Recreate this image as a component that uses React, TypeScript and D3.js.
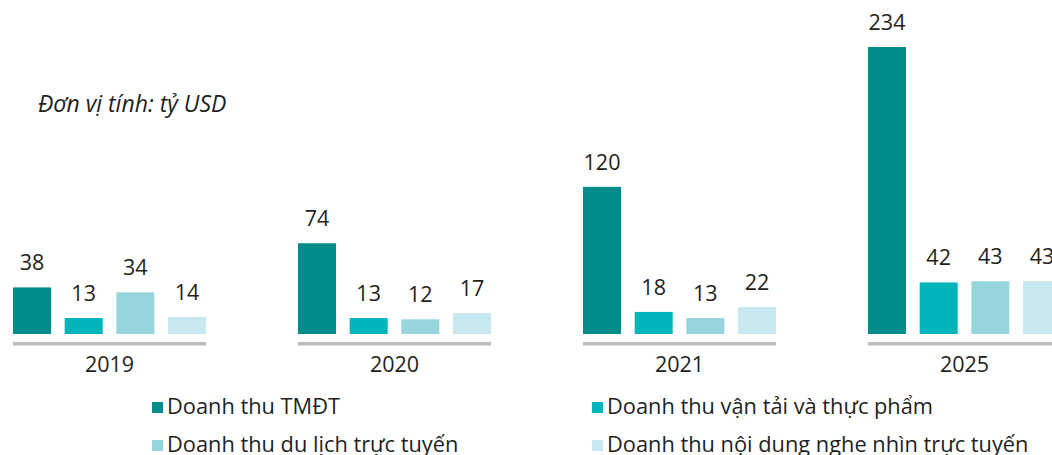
import React from "react";
import * as d3 from "d3";

const years = ["2019", "2020", "2021", "2025"];
const seriesNames = [
  "Doanh thu TMĐT",
  "Doanh thu vận tải và thực phẩm",
  "Doanh thu du lịch trực tuyến",
  "Doanh thu nội dung nghe nhìn trực tuyến",
];
const tmdt = [38, 74, 120, 234];
const vanTai = [13, 13, 18, 42];
const duLich = [34, 12, 13, 43];
const ngheNhin = [14, 17, 22, 43];
const seriesValues = [tmdt, vanTai, duLich, ngheNhin];
const colors = ["#008C8A", "#00B5BA", "#96D5DC", "#C8E8EF"];
const unitLabel = "Đơn vị tính: tỷ USD";

const W = 1052;
const H = 455;
const FONT = "'Open Sans', 'Noto Sans', sans-serif";

export default function App() {
  const x0 = d3
    .scaleBand<string>()
    .domain(years)
    .range([13, 1061])
    .paddingInner(0.3228)
    .paddingOuter(0);
  const x1 = d3
    .scaleBand<number>()
    .domain(d3.range(seriesNames.length))
    .range([0, x0.bandwidth()])
    .paddingInner(0.2645)
    .paddingOuter(0);
  const y = d3.scaleLinear().domain([0, 234]).range([334, 47]);

  const legendPos = [
    { x: 152, y: 402 },
    { x: 592, y: 402 },
    { x: 152, y: 440 },
    { x: 592, y: 440 },
  ];

  return (
    <svg
      width={W}
      height={H}
      style={{ position: "absolute", left: 0, top: 0, background: "#fff" }}
      fontFamily={FONT}
    >
      <text x={38} y={112} fontSize={23} fontStyle="italic" fill="#231F20">
        {unitLabel}
      </text>
      {years.map((yr, gi) => {
        const gx = x0(yr)!;
        return (
          <g key={yr}>
            {seriesValues.map((vals, si) => {
              const v = vals[gi];
              const bx = gx + x1(si)!;
              return (
                <g key={si}>
                  <rect
                    x={bx}
                    y={y(v)}
                    width={x1.bandwidth()}
                    height={y(0) - y(v)}
                    fill={colors[si]}
                  />
                  <text
                    x={bx + x1.bandwidth() / 2}
                    y={y(v) - 17}
                    textAnchor="middle"
                    fontSize={21.5}
                    fill="#231F20"
                  >
                    {v}
                  </text>
                </g>
              );
            })}
            <rect x={gx} y={342} width={x0.bandwidth()} height={3.5} fill="#BCBDC0" />
            <text
              x={gx + x0.bandwidth() / 2}
              y={372}
              textAnchor="middle"
              fontSize={21.5}
              fill="#231F20"
            >
              {yr}
            </text>
          </g>
        );
      })}
      {seriesNames.map((name, i) => (
        <g key={name}>
          <rect x={legendPos[i].x} y={legendPos[i].y} width={11} height={11} fill={colors[i]} />
          <text x={legendPos[i].x + 15} y={legendPos[i].y + 12} fontSize={21.8} fill="#231F20">
            {name}
          </text>
        </g>
      ))}
    </svg>
  );
}
